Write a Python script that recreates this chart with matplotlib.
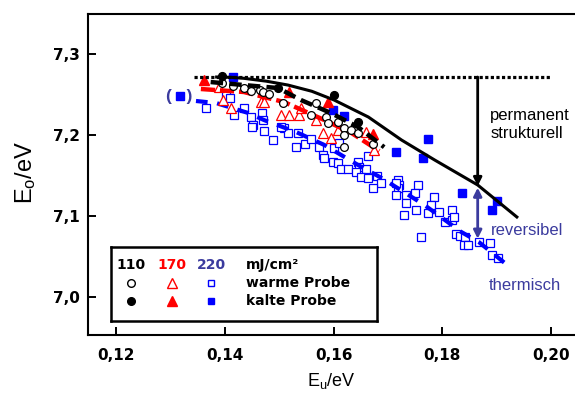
import matplotlib
matplotlib.use("Agg")
import matplotlib.pyplot as plt

plt.rcParams['font.family'] = ['Liberation Sans', 'DejaVu Sans']
plt.rcParams['mathtext.fontset'] = 'custom'
plt.rcParams['mathtext.rm'] = 'Liberation Sans'
plt.rcParams['mathtext.it'] = 'Liberation Sans'

SLATE = '#3b3b9e'

# 110 mJ/cm2
warm110_x = [0.1394, 0.1415, 0.1435, 0.1448, 0.1464, 0.1470, 0.1481, 0.1507, 0.1568, 0.1559,
             0.1586, 0.1590, 0.1608, 0.1619, 0.1619, 0.1632, 0.1645, 0.1673, 0.1619]
warm110_y = [7.2642, 7.2605, 7.2580, 7.2543, 7.2556, 7.2531, 7.2506, 7.2395, 7.2395, 7.2247,
             7.2222, 7.2148, 7.2160, 7.2086, 7.2000, 7.2062, 7.2025, 7.1889, 7.1852]
kalt110_x = [0.1394, 0.1498, 0.1601, 0.1645]
kalt110_y = [7.2728, 7.2580, 7.2494, 7.2160]

# 170 mJ/cm2
warm170_x = [0.1389, 0.1396, 0.1411, 0.1466, 0.1472, 0.1503, 0.1518, 0.1536, 0.1540, 0.1568,
             0.1581, 0.1595, 0.1608, 0.1660, 0.1675]
warm170_y = [7.2593, 7.2432, 7.2333, 7.2407, 7.2407, 7.2247, 7.2247, 7.2247, 7.2333, 7.2185,
             7.2025, 7.1963, 7.2062, 7.2037, 7.1815]
kalt170_x = [0.1361, 0.1518, 0.1590, 0.1673]
kalt170_y = [7.2679, 7.2531, 7.2407, 7.2012]

# 220 mJ/cm2
warm220_x = [0.1365, 0.1402, 0.1409, 0.1416, 0.1435, 0.1448, 0.1468, 0.1470, 0.1452, 0.1472,
             0.1488, 0.1509, 0.1516, 0.1535, 0.1531, 0.1547, 0.1559, 0.1573, 0.1581, 0.1583,
             0.1601, 0.1610, 0.1599, 0.1608, 0.1614, 0.1627, 0.1645, 0.1647, 0.1642, 0.1660,
             0.1651, 0.1664, 0.1679, 0.1688, 0.1673, 0.1664, 0.1719, 0.1721, 0.1719, 0.1756,
             0.1715, 0.1715, 0.1734, 0.1749, 0.1734, 0.1752, 0.1730, 0.1774, 0.1785, 0.1780,
             0.1793, 0.1804, 0.1817, 0.1817, 0.1821, 0.1826, 0.1832, 0.1841, 0.1839, 0.1848,
             0.1761, 0.1867, 0.1887, 0.1891, 0.1902, 0.1503, 0.1450]
warm220_y = [7.2333, 7.2494, 7.2457, 7.2247, 7.2333, 7.2222, 7.2272, 7.2185, 7.2123, 7.2049,
             7.1938, 7.2086, 7.2025, 7.2025, 7.1852, 7.1889, 7.1951, 7.1852, 7.1753, 7.1716,
             7.1840, 7.1901, 7.1667, 7.1654, 7.1580, 7.1580, 7.1667, 7.1605, 7.1543, 7.1580,
             7.1481, 7.1469, 7.1494, 7.1407, 7.1346, 7.1741, 7.1444, 7.1383, 7.1346, 7.1383,
             7.1407, 7.1259, 7.1259, 7.1284, 7.1160, 7.1074, 7.1012, 7.1037, 7.1235, 7.1136,
             7.1049, 7.0926, 7.1074, 7.0951, 7.0988, 7.0778, 7.0753, 7.0741, 7.0642, 7.0642,
             7.0741, 7.0679, 7.0667, 7.0519, 7.0481, 7.2099, 7.2099]
kalt220_x = [0.1415, 0.1599, 0.1619, 0.1715, 0.1773, 0.1765, 0.1837, 0.1900, 0.1891]
kalt220_y = [7.2716, 7.2309, 7.2235, 7.1790, 7.1951, 7.1716, 7.1284, 7.1185, 7.1074]
paren220_x = [0.1317]
paren220_y = [7.2481]

# fit lines
fit110_x = [0.1374, 0.1435, 0.1498, 0.1540, 0.1595, 0.1645, 0.1693]
fit110_y = [7.2654, 7.2617, 7.2580, 7.2432, 7.2272, 7.2099, 7.1850]
fit170_x = [0.1356, 0.1435, 0.1509, 0.1583, 0.1633, 0.1684]
fit170_y = [7.2568, 7.2531, 7.2407, 7.2185, 7.2025, 7.1802]
fit220_x = [0.1347, 0.1384, 0.1443, 0.1472, 0.1531, 0.1583, 0.1614, 0.1645, 0.1688,
            0.1700, 0.1767, 0.1835, 0.1867, 0.1924]
fit220_y = [7.2420, 7.2395, 7.2272, 7.2185, 7.2037, 7.1877, 7.1753, 7.1630, 7.1470,
            7.1420, 7.1136, 7.0802, 7.0679, 7.0370]

# reference level and reversible curve
level_x = [0.1343, 0.1999]
level_y = [7.2716, 7.2716]
curve_x = [0.1385, 0.1412, 0.1435, 0.1476, 0.1516, 0.1560, 0.1601, 0.1664, 0.1725, 0.1786,
           0.1865, 0.1937]
curve_y = [7.2716, 7.2712, 7.2700, 7.2665, 7.2617, 7.2540, 7.2432, 7.2222, 7.1938, 7.1691,
           7.1383, 7.0988]
arrow_x = 0.1865
arrow_top = 7.2716
arrow_mid = 7.1370
arrow_low = 7.0720

fig = plt.figure(figsize=(5.75, 3.96), dpi=100)
ax = fig.add_axes([88.3 / 575, 1 - 335 / 396, 490 / 575, 321 / 396])

ms_c, ms_t, ms_s = 5.6, 7.6, 5.2
ax.plot(warm220_x, warm220_y, 's', ms=ms_s, mfc='white', mec='#0000ff', mew=0.9, zorder=3)
ax.plot(kalt220_x, kalt220_y, 's', ms=ms_s, color='#0000ff', zorder=3)
ax.plot(paren220_x, paren220_y, 's', ms=ms_s, color='#0000ff', zorder=3)
ax.text(paren220_x[0], paren220_y[0], '(   )', color=SLATE, fontsize=12.5, fontweight='bold',
        ha='center', va='center')

ax.plot(warm170_x, warm170_y, '^', ms=ms_t, mfc='white', mec='#ff0000', mew=0.9, zorder=4)
ax.plot(kalt170_x, kalt170_y, '^', ms=ms_t, color='#ff0000', zorder=4)
ax.plot(warm110_x, warm110_y, 'o', ms=ms_c, mfc='white', mec='black', mew=0.9, zorder=5)
ax.plot(kalt110_x, kalt110_y, 'o', ms=ms_c, color='black', zorder=5)

ax.plot(fit220_x, fit220_y, color='#0000ff', lw=3.0, ls=(0, (2.8, 2.3)), zorder=3.5)
ax.plot(fit170_x, fit170_y, color='#ff0000', lw=3.2, ls=(0, (3.2, 1.1)), zorder=4.5)
ax.plot(fit110_x, fit110_y, color='black', lw=3.2, ls=(0, (2.8, 1.4)), zorder=5.5)

ax.plot(level_x, level_y, color='black', lw=2.3, ls=(0, (1, 0.75)), zorder=6)
ax.plot(curve_x, curve_y, color='black', lw=2.2, zorder=6)

ax.annotate('', xy=(arrow_x, arrow_mid), xytext=(arrow_x, arrow_top),
            arrowprops=dict(arrowstyle='-|>', color='black', lw=2.0, mutation_scale=12,
                            shrinkA=0, shrinkB=0), zorder=7)
ax.annotate('', xy=(arrow_x, arrow_low), xytext=(arrow_x, arrow_mid - 0.002),
            arrowprops=dict(arrowstyle='<|-|>', color=SLATE, lw=2.0, mutation_scale=12,
                            shrinkA=0, shrinkB=0), zorder=7)

ax.text(0.1888, 7.2130, 'permanent\nstrukturell', fontsize=12, color='black',
        ha='left', va='center', linespacing=1.25)
ax.text(0.1890, 7.0827, 'reversibel', fontsize=12, color=SLATE, ha='left', va='center')
ax.text(0.1885, 7.0136, 'thermisch', fontsize=12, color=SLATE, ha='left', va='center')

ax.set_xlim(0.1149, 0.2050)
ax.set_ylim(6.9531, 7.3494)
ax.set_xticks([0.12, 0.14, 0.16, 0.18, 0.20])
ax.set_xticklabels(['0,12', '0,14', '0,16', '0,18', '0,20'])
ax.set_yticks([7.0, 7.1, 7.2, 7.3])
ax.set_yticklabels(['7,0', '7,1', '7,2', '7,3'])
for lab in ax.get_xticklabels() + ax.get_yticklabels():
    lab.set_fontfamily('DejaVu Sans')
    lab.set_fontweight('bold')
    lab.set_fontsize(11)
ax.tick_params(direction='in', length=6, width=1.4)
ax.tick_params(axis='x', pad=9)
ax.tick_params(axis='y', pad=6)
ax.spines['right'].set_visible(False)
for s in ['left', 'bottom', 'top']:
    ax.spines[s].set_linewidth(1.5)

fig.text(331 / 575, 1 - 381 / 396, 'E$_{\\mathrm{u}}$/eV', fontsize=13, ha='center', va='center')
fig.text(26 / 575, 1 - 172 / 396, 'E$_{\\mathrm{o}}$/eV', fontsize=17, ha='center', va='center',
         rotation=90)

# legend box
lg = fig.add_axes([111 / 575, 1 - 321 / 396, 266 / 575, 74 / 396])
lg.set_xlim(0, 1)
lg.set_ylim(0, 1)
lg.set_xticks([])
lg.set_yticks([])
for s in lg.spines.values():
    s.set_linewidth(1.8)
bold = dict(fontfamily='DejaVu Sans', fontweight='bold', fontsize=10, va='center')
lg.text(0.075, 0.757, '110', color='black', ha='center', **bold)
lg.text(0.229, 0.757, '170', color='#ff0000', ha='center', **bold)
lg.text(0.376, 0.757, '220', color=SLATE, ha='center', **bold)
lg.text(0.508, 0.757, 'mJ/cm²', color='black', ha='left', **bold)
lg.plot([0.075], [0.514], 'o', ms=5.5, mfc='white', mec='black', mew=1.0)
lg.plot([0.229], [0.514], '^', ms=7.5, mfc='white', mec='#ff0000', mew=1.0)
lg.plot([0.376], [0.514], 's', ms=5, mfc='white', mec='#0000ff', mew=1.0)
lg.text(0.508, 0.514, 'warme Probe', color='black', ha='left', **bold)
lg.plot([0.075], [0.27], 'o', ms=5.5, color='black')
lg.plot([0.229], [0.27], '^', ms=7.5, color='#ff0000')
lg.plot([0.376], [0.27], 's', ms=5, color='#0000ff')
lg.text(0.508, 0.27, 'kalte Probe', color='black', ha='left', **bold)

fig.savefig('out.png', dpi=100)
